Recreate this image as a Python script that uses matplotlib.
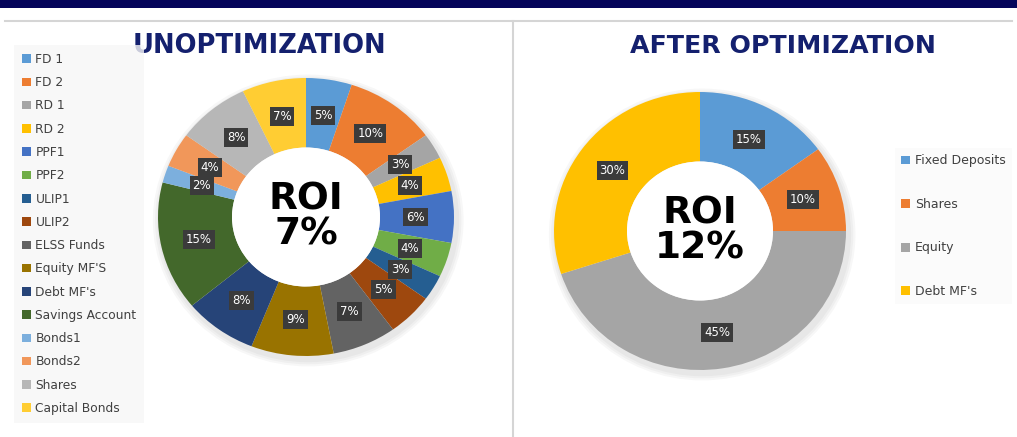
import numpy as np
import matplotlib.pyplot as plt
from matplotlib.patches import Rectangle, Circle
from matplotlib.lines import Line2D

W, H = 1017, 437

# left donut (before optimization)
before_labels = ["FD 1", "FD 2", "RD 1", "RD 2", "PPF1", "PPF2", "ULIP1", "ULIP2",
                 "ELSS Funds", "Equity MF'S", "Debt MF's", "Savings Account",
                 "Bonds1", "Bonds2", "Shares", "Capital Bonds"]
before_values = [5, 10, 3, 4, 6, 4, 3, 5, 7, 9, 8, 15, 2, 4, 8, 7]
before_colors = ["#5B9BD5", "#ED7D31", "#A5A5A5", "#FFC000", "#4472C4", "#70AD47",
                 "#255E91", "#9E480E", "#636363", "#997300", "#264478", "#43682B",
                 "#7CAFDD", "#F1975A", "#B7B7B7", "#FFCD33"]

# right donut (after optimization)
after_labels = ["Fixed Deposits", "Shares", "Equity", "Debt MF's"]
after_values = [15, 10, 45, 30]
after_colors = ["#5B9BD5", "#ED7D31", "#A5A5A5", "#FFC000"]

roi_before = "7%"
roi_after = "12%"


def px_axes(fig, cx, cy, rx, ry):
    return fig.add_axes([(cx - rx) / W, 1 - (cy + ry) / H, 2 * rx / W, 2 * ry / H])


def donut(ax, values, colors, roi):
    # soft shadow behind the ring
    for rr in [1.05, 1.035, 1.02]:
        ax.add_patch(Circle((0.015, -0.025), rr, fc="#000000", alpha=0.03,
                            ec="none", clip_on=False))
    wedges, _ = ax.pie(values, colors=colors, startangle=90, counterclock=False,
                       radius=1, wedgeprops=dict(width=0.5, edgecolor="none"))
    ax.add_patch(Circle((0, 0), 0.5, fc="white", ec="none"))
    total = sum(values)
    cum = 0
    for v in values:
        mid = 90 - 360 * (cum + v / 2) / total
        cum += v
        r = 0.74
        ax.text(r * np.cos(np.radians(mid)), r * np.sin(np.radians(mid)), f"{v}%",
                ha="center", va="center", color="white", fontsize=8.5,
                bbox=dict(boxstyle="square,pad=0.25", fc="#3B3B3B", ec="none"))
    ax.text(0, 0, "ROI\n" + roi, ha="center", va="center", fontsize=27,
            fontweight="bold", color="black", linespacing=0.95)
    ax.set_xlim(-1, 1)
    ax.set_ylim(-1, 1)
    ax.set_aspect("auto")
    ax.axis("off")
    return wedges


fig = plt.figure(figsize=(W / 100, H / 100), dpi=100)
fig.patch.set_facecolor("white")

# header bar and panel frames
fig.patches.append(Rectangle((0, 1 - 8 / H), 1, 8 / H, transform=fig.transFigure,
                             fc="#05055A", ec="none"))
fig.lines.append(Line2D([5 / W, 1012 / W], [1 - 21 / H, 1 - 21 / H],
                        transform=fig.transFigure, color="#D5D5D5", lw=1.5))
fig.lines.append(Line2D([513 / W, 513 / W], [0, 1 - 21 / H],
                        transform=fig.transFigure, color="#D5D5D5", lw=1.5))

fig.text(259 / W, 1 - 46 / H, "UNOPTIMIZATION", ha="center", va="center",
         fontsize=18.6, fontweight="bold", color="#14206E")
fig.text(783 / W, 1 - 46 / H, "AFTER OPTIMIZATION", ha="center", va="center",
         fontsize=18.2, fontweight="bold", color="#14206E")

ax1 = px_axes(fig, 306, 217, 148, 139)
w1 = donut(ax1, before_values, before_colors, roi_before)

ax2 = px_axes(fig, 700, 231, 146, 139)
w2 = donut(ax2, after_values, after_colors, roi_after)

leg1 = fig.legend(w1, before_labels, loc="upper left",
                  bbox_to_anchor=(14 / W, 1 - 45 / H), fontsize=8.8,
                  frameon=True, facecolor="#F7F7F7", edgecolor="none", fancybox=False,
                  handlelength=0.7, handleheight=0.7, handletextpad=0.4,
                  labelspacing=0.84, borderpad=0.65, borderaxespad=0,
                  labelcolor="#404040")

leg2 = fig.legend(w2, after_labels, loc="upper left",
                  bbox_to_anchor=(895 / W, 1 - 148 / H), fontsize=9,
                  frameon=True, facecolor="#FAFAFA", edgecolor="none", fancybox=False,
                  handlelength=0.7, handleheight=0.7, handletextpad=0.4,
                  labelspacing=2.45, borderpad=0.5, borderaxespad=0,
                  labelcolor="#404040")

fig.savefig("out.png", dpi=100)
